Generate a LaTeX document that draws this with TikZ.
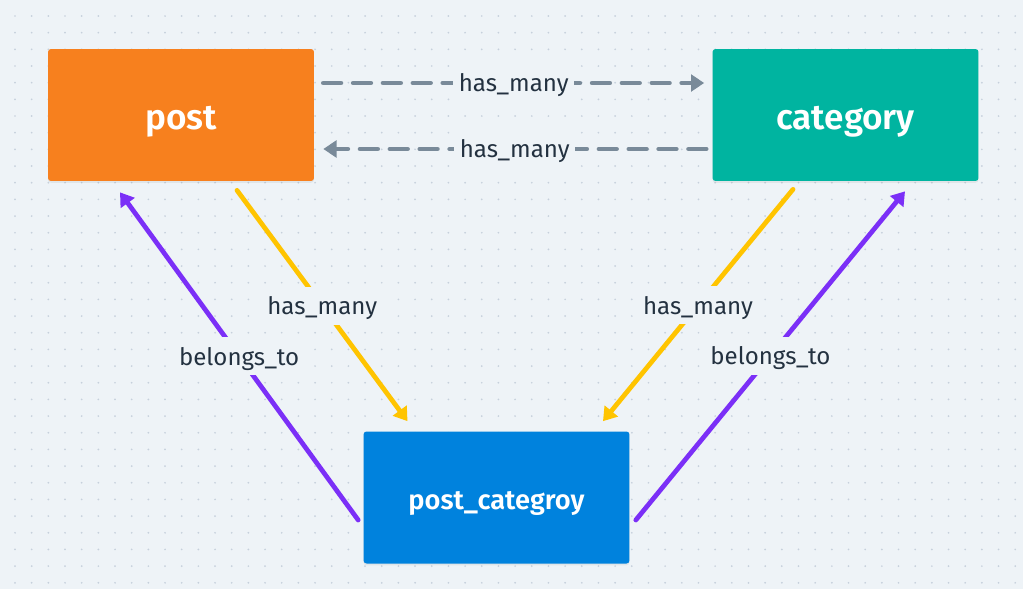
\documentclass[tikz,border=0pt]{standalone}
\usepackage{fontspec}
\setmainfont{Fira Sans}[BoldFont={Fira Sans SemiBold}]
\usetikzlibrary{arrows.meta, calc, shadows}

\definecolor{bgc}{HTML}{EEF3F7}
\definecolor{dotc}{HTML}{C6D0DC}
\definecolor{ink}{HTML}{233140}
\definecolor{postc}{HTML}{F7801E}
\definecolor{catc}{HTML}{00B4A0}
\definecolor{pcc}{HTML}{0082DD}
\definecolor{hmc}{HTML}{FFC400}
\definecolor{btc}{HTML}{7B2FF7}
\definecolor{grayc}{HTML}{798A99}

\begin{document}
\begin{tikzpicture}[x=0.02cm, y=-0.02cm, font={\fontsize{13.7}{16}\selectfont},
box/.style={rounded corners=1.7pt, inner sep=0pt, minimum width=5.32cm,
minimum height=2.64cm, text=white, font=\fontsize{20}{24}\selectfont\bfseries,
text height=16pt, text depth=0pt,
drop shadow={shadow xshift=0pt, shadow yshift=-1pt, opacity=0.12}},
lbl/.style={fill=bgc, inner xsep=3.2pt, inner ysep=5.7pt, text=ink,
text height=10.2pt, text depth=0pt},
link/.style={line width=2.7pt, line cap=round, -{Triangle[length=7.5pt, width=9.5pt]}},
]

% background
\useasboundingbox (0,0) rectangle (1023,589);
\fill[bgc] (0,0) rectangle (1023,589);
\foreach \i in {0,...,60}
  \foreach \j in {0,...,34}
    \fill[dotc] (15+16.67*\i, 16+16.67*\j) circle[radius=0.55pt];

\path
(181,115) node[box, fill=postc] (post) {post}
(845.5,115) node[box, fill=catc] (cat) {category}
(496.5,497.5) node[box, fill=pcc, font=\fontsize{15.5}{18}\selectfont\bfseries,
  text height=14.2pt] (pc) {post\_categroy}
;

% has_many between the tables
\begin{scope}[link, grayc, dash pattern=on 10pt off 7pt]
\draw ($(post.east)+(9,-32)$) -- ($(cat.west)+(-8,-32)$)
  node[lbl, midway] {has\_many};
\draw ($(cat.west)+(-6,34)$) -- ($(post.east)+(9,34)$)
  node[lbl, midway] {has\_many};
\end{scope}

% has_many to the join table
\begin{scope}[link, hmc]
\draw ($(post.south)+(56,9)$) -- ($(pc.north)+(-89,-10)$)
  node[lbl, midway] {has\_many};
\draw ($(cat.south)+(-52.5,8)$) -- ($(pc.north)+(106.5,-10)$)
  node[lbl, midway] {has\_many};
\end{scope}

% belongs_to
\begin{scope}[link, btc]
\draw ($(pc.west)+(-5,22.5)$) -- ($(post.south)+(-61,11)$)
  node[lbl, midway] {belongs\_to};
\draw ($(pc.east)+(6,22.5)$) -- ($(cat.south)+(59.5,10)$)
  node[lbl, midway] {belongs\_to};
\end{scope}

\end{tikzpicture}
\end{document}
